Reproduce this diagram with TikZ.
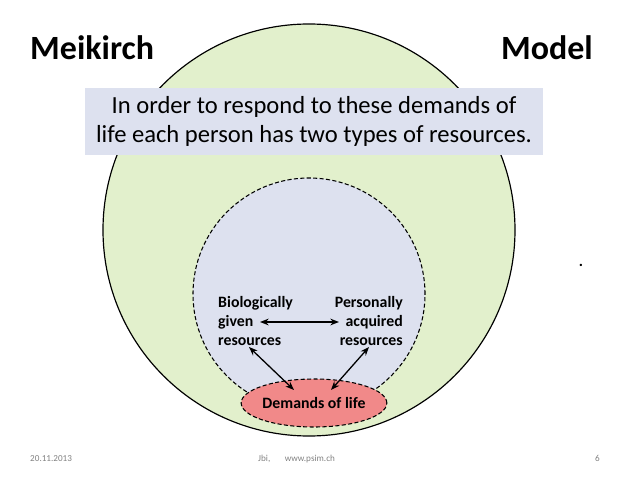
\documentclass[tikz,border=0pt]{standalone}
\usepackage{fontspec}
\setmainfont{Carlito}
\usepackage{xcolor}
\usetikzlibrary{positioning, arrows.meta, shapes.geometric}

\definecolor{lifegreen}{RGB}{226,240,204}
\definecolor{reslavender}{RGB}{221,225,239}
\definecolor{demandred}{RGB}{241,137,137}
\definecolor{footgray}{RGB}{130,130,130}

\begin{document}
\begin{tikzpicture}[x=0.03cm, y=-0.03cm,
    titletext/.style={font=\fontsize{29}{33}\selectfont\bfseries, inner sep=0pt},
    restext/.style={font=\fontsize{13.5}{15.8}\selectfont\bfseries, inner sep=0pt},
    foottext/.style={font=\fontsize{7.8}{9}\selectfont, text=footgray, inner sep=0pt},
    dashline/.style={dash pattern=on 3.5pt off 2pt, line width=0.9pt},
    linkarrow/.style={{Stealth[length=2.6mm, width=2mm]}-{Stealth[length=2.6mm, width=2mm]}, line width=1.1pt}]
    \useasboundingbox[fill=white] (0,0) rectangle (638,479);
    \node[draw, circle, fill=lifegreen, line width=1pt, minimum size=12.36cm, inner sep=0pt] (life) at (309,230) {};
    \node[draw, circle, dashline, fill=reslavender, minimum size=6.96cm, inner sep=0pt] (res) at (309,294) {};
    \node[draw, ellipse, dashline, fill=demandred, minimum width=3.96cm, minimum height=1.44cm, inner sep=0pt, font=\fontsize{13.5}{15.8}\selectfont\bfseries] (demands) at (314,403) {Demands of life};
    \node[rectangle, fill=reslavender, minimum width=13.74cm, minimum height=2.01cm, align=center, font=\fontsize{21}{25.5}\selectfont] (intro) at (314,121.5) {In order to respond to these demands of\\life each person has two types of resources.};
    \node[titletext, anchor=base west] (meikirch) at (30,60) {Meikirch};
    \node[titletext, anchor=base east] (model) at (593,60) {Model};
    \node[restext, anchor=base west, align=left] (bio) at (218,345) {Biologically\\given\\resources};
    \node[restext, anchor=base east, align=right] (pers) at (403,345) {Personally\\acquired\\resources};
    \node[font=\fontsize{13.5}{15.8}\selectfont\bfseries, inner sep=0pt, anchor=base] (dot) at (581,266) {.};
    % arrow ends
    \coordinate (bioR) at (260,322);
    \coordinate (persL) at (339,322);
    \coordinate (bioS) at (249,347);
    \coordinate (persS) at (369,347);
    \coordinate (demL) at (294,390);
    \coordinate (demR) at (331,390);
    \draw[linkarrow] (bioR) -- (persL);
    \draw[linkarrow] (bioS) -- (demL);
    \draw[linkarrow] (persS) -- (demR);
    % footer
    \node[foottext, anchor=base west] (date) at (30,461) {20.11.2013};
    \node[foottext, anchor=base west] (jbi) at (258,461) {Jbi,};
    \node[foottext, right=12pt of jbi.base east, anchor=base west] (web) {www.psim.ch};
    \node[foottext, anchor=base east] (page) at (600,461) {6};
\end{tikzpicture}
\end{document}
